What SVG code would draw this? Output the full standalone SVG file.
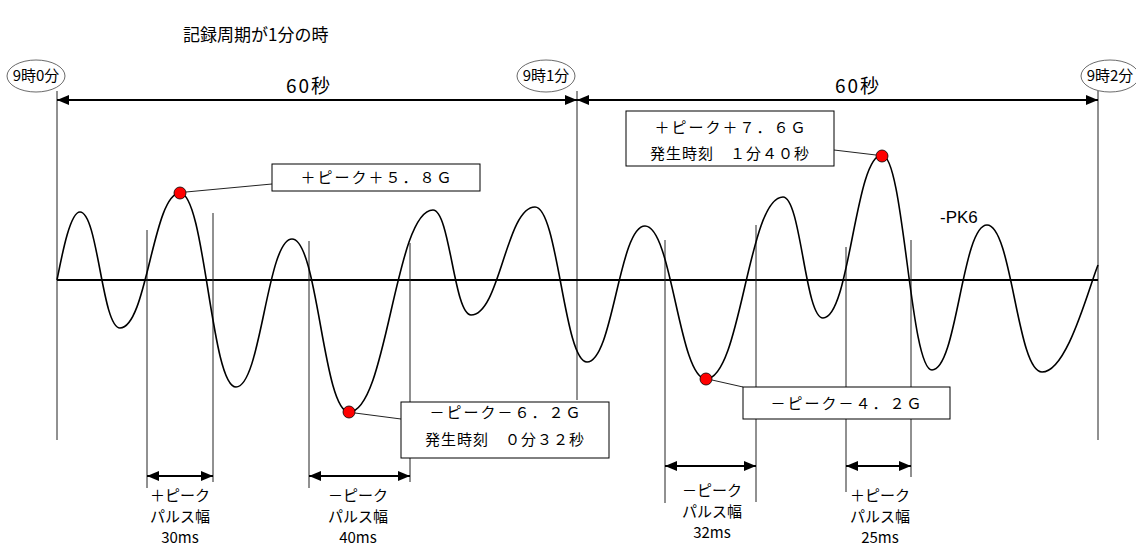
<svg xmlns="http://www.w3.org/2000/svg" width="1136" height="548" viewBox="0 0 1136 548">
<style>
text{font-family:"Noto Sans CJK JP","Liberation Sans",sans-serif;fill:#000}
.t{font-size:15px}
.p{font-size:15px}
.box{fill:#fff;stroke:#000;stroke-width:1}
.ell{fill:#fff;stroke:#444;stroke-width:0.8}
.thin{stroke:#222;stroke-width:1;fill:none}
.dim{stroke:#000;stroke-width:2;fill:none;marker-start:url(#ah);marker-end:url(#ah)}
.dot{fill:#f00;stroke:#000;stroke-width:0.8}
</style>
<defs>
<marker id="ah" viewBox="0 0 12 10" refX="12" refY="5" markerWidth="12" markerHeight="10" markerUnits="userSpaceOnUse" orient="auto-start-reverse"><path d="M0,0L12,5L0,10Z" fill="#000"/></marker>
</defs>
<rect width="1136" height="548" fill="#fff"/>
<g id="title"><text x="183" y="41" style="font-size:17px">記録周期が1分の時</text></g>

<g id="connectors">
<line class="thin" x1="57" y1="91" x2="57" y2="440"/>
<line class="thin" x1="577" y1="91" x2="577" y2="400"/>
<line class="thin" x1="1098" y1="91" x2="1098" y2="440"/>
<line class="dim" x1="57" y1="100" x2="577" y2="100"/>
<line class="dim" x1="577" y1="100" x2="1098" y2="100"/>
<line x1="57" y1="280" x2="1098" y2="280" stroke="#000" stroke-width="2"/>
<line class="thin" x1="147" y1="230" x2="147" y2="488"/>
<line class="thin" x1="213" y1="213" x2="213" y2="482"/>
<line class="thin" x1="309" y1="241" x2="309" y2="488"/>
<line class="thin" x1="410" y1="243" x2="410" y2="482"/>
<line class="thin" x1="665" y1="240" x2="665" y2="503"/>
<line class="thin" x1="756" y1="225" x2="756" y2="502"/>
<line class="thin" x1="846" y1="247" x2="846" y2="492"/>
<line class="thin" x1="911" y1="240" x2="911" y2="477"/>
<line class="dim" x1="147" y1="476" x2="213" y2="476"/>
<line class="dim" x1="309" y1="476" x2="410" y2="476"/>
<line class="dim" x1="665" y1="466" x2="756" y2="466"/>
<line class="dim" x1="846" y1="466" x2="911" y2="466"/>
<line class="thin" x1="186" y1="192" x2="272" y2="184"/>
<line class="thin" x1="355" y1="413" x2="401" y2="419"/>
<line class="thin" x1="834" y1="150" x2="876" y2="155"/>
<line class="thin" x1="712" y1="380" x2="743" y2="387"/>
</g>

<g id="waveform">
<path fill="none" stroke="#000" stroke-width="1.6" d="M57,280 C62,255 70,212 80,212 C98,212 102,328 120,328 C147,328 153,193 180,193 C205,193 211,387 236,387 C261,387 267,239 292,239 C318,239 323,412 349,412 C387,412 395,210 433,210 C450,210 454,315 471,315 C500,315 506,207 535,207 C558,207 564,362 587,362 C613,362 619,226 645,226 C672,226 679,379 706,379 C741,379 748,197 783,197 C801,197 805,318 823,318 C850,318 855,155 882,155 C904,155 910,370 932,370 C957,370 962,225 987,225 C1012,225 1017,372 1042,372 C1067,372 1088,290 1098,265"/>
<circle class="dot" cx="180" cy="193" r="6"/>
<circle class="dot" cx="349" cy="412" r="6"/>
<circle class="dot" cx="706" cy="379" r="6"/>
<circle class="dot" cx="882" cy="156" r="6"/>
</g>

<g id="t0"><ellipse class="ell" cx="36" cy="76" rx="29" ry="16"/><text x="36" y="81" text-anchor="middle" style="font-size:15px">9時0分</text></g>
<g id="t1"><ellipse class="ell" cx="546" cy="76" rx="29" ry="16"/><text x="546" y="81" text-anchor="middle" style="font-size:15px">9時1分</text></g>
<g id="t2"><ellipse class="ell" cx="1110" cy="76" rx="29" ry="16"/><text x="1110" y="81" text-anchor="middle" style="font-size:15px">9時2分</text></g>

<g id="d1"><text x="309" y="93" text-anchor="middle" style="font-size:19px;letter-spacing:2px">60秒</text></g>
<g id="d2"><text x="858" y="93" text-anchor="middle" style="font-size:19px;letter-spacing:2px">60秒</text></g>

<g id="c1"><rect class="box" x="272" y="164" width="208" height="27"/><text class="t" x="377" y="183" text-anchor="middle" style="letter-spacing:2px">＋ピーク＋５．８Ｇ</text></g>
<g id="c2"><rect class="box" x="401" y="402" width="208" height="56"/><text class="t" x="506" y="418" text-anchor="middle" style="letter-spacing:2px">－ピーク－６．２Ｇ</text><text class="t" x="505" y="445" text-anchor="middle" style="letter-spacing:1px">発生時刻　０分３２秒</text></g>
<g id="c3"><rect class="box" x="626" y="111" width="208" height="55"/><text class="t" x="731" y="133" text-anchor="middle" style="letter-spacing:2px">＋ピーク＋７．６Ｇ</text><text class="t" x="730" y="159" text-anchor="middle" style="letter-spacing:1px">発生時刻　１分４０秒</text></g>
<g id="c4"><rect class="box" x="743" y="387" width="207" height="32"/><text class="t" x="847" y="409" text-anchor="middle" style="letter-spacing:2px">－ピーク－４．２Ｇ</text></g>
<g id="pk6"><text x="940" y="223" style="font-family:'Liberation Sans',sans-serif;font-size:17px">-PK6</text></g>

<g id="p1" class="p" text-anchor="middle"><text x="180" y="501">＋ピーク</text><text x="180" y="522">パルス幅</text><text x="180" y="543">30ms</text></g>
<g id="p2" class="p" text-anchor="middle"><text x="358" y="501">－ピーク</text><text x="358" y="522">パルス幅</text><text x="358" y="543">40ms</text></g>
<g id="p3" class="p" text-anchor="middle"><text x="712" y="496">－ピーク</text><text x="712" y="517">パルス幅</text><text x="712" y="538">32ms</text></g>
<g id="p4" class="p" text-anchor="middle"><text x="880" y="501">＋ピーク</text><text x="880" y="522">パルス幅</text><text x="880" y="543">25ms</text></g>
</svg>
